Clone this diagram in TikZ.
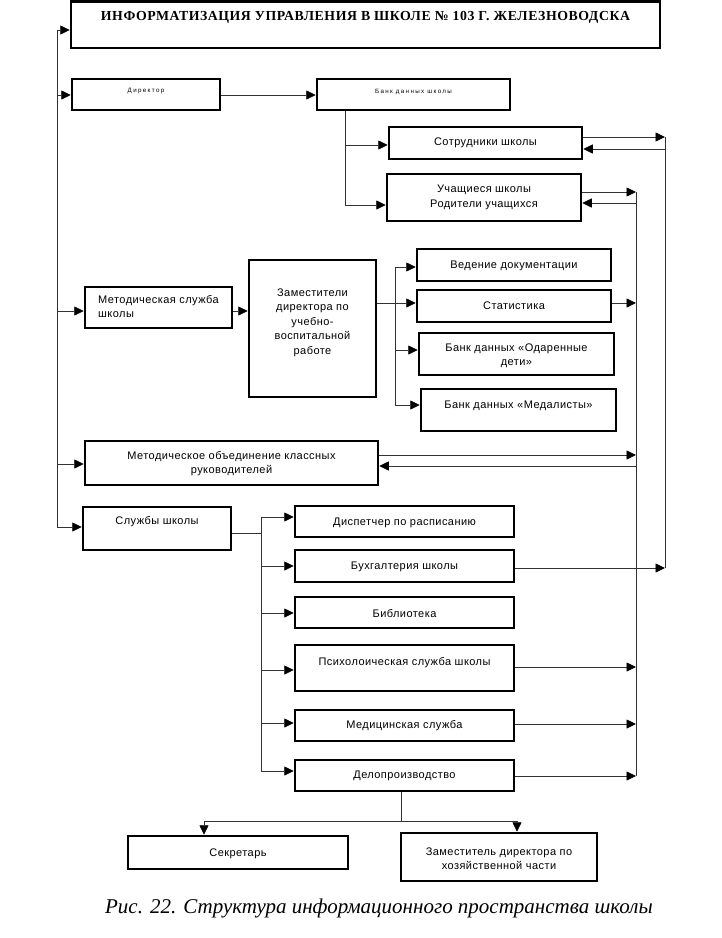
\documentclass[tikz,border=0pt]{standalone}
\usepackage{fontspec}
\setmainfont{Liberation Sans}
\newfontfamily\titlef[LetterSpace=4]{Liberation Serif}
\newfontfamily\capf{Liberation Serif}
\newfontfamily\tinyf[LetterSpace=22]{Liberation Sans}
\newfontfamily\boxf[LetterSpace=4]{Liberation Sans}
\usetikzlibrary{arrows.meta}
% #1 options for label, #2 name, #3 x1, #4 y1, #5 x2, #6 y2, #7 text y, #8 text
\newcommand{\bx}[8][]{%
  \pgfmathsetmacro\mybw{#5-#3}\pgfmathsetmacro\mybh{#6-#4}%
  \pgfmathsetmacro\mybcx{(#3+#5)/2}\pgfmathsetmacro\mybcy{(#4+#6)/2}%
  \node[box, minimum width=\mybw pt, minimum height=\mybh pt] (#2) at (\mybcx,\mybcy) {};%
  \node[lbl,#1] (#2-t) at (\mybcx,#7) {#8};%
}
\begin{document}
\begin{tikzpicture}[x=1pt,y=-1pt,
  box/.style={draw, line width=2.5pt, inner sep=0pt},
  lbl/.style={font=\boxf\fontsize{11}{14.5}\selectfont, align=center, inner sep=0pt, yshift=-1.5pt},
  tinylbl/.style={font=\tinyf\fontsize{6.2}{7}\selectfont},
  titlelbl/.style={font=\titlef\bfseries\fontsize{13.8}{15}\selectfont},
  conn/.style={line width=0.8pt, draw=black!80},
  arr/.style={conn, -{Triangle[length=9.5pt,width=9pt,color=black]}}]
\useasboundingbox (0,0) rectangle (722,938);

% boxes
\bx[titlelbl]{title}{71}{1.5}{660}{48}{15.5}{ИНФОРМАТИЗАЦИЯ УПРАВЛЕНИЯ В ШКОЛЕ № 103 Г. ЖЕЛЕЗНОВОДСКА}
\bx[tinylbl]{dir}{72}{79}{220}{110}{90}{Директор}
\bx[tinylbl]{bank}{317}{79}{510}{110}{90}{Банк данных школы}
\bx{sotr}{389}{127}{582}{159}{141}{Сотрудники школы}
\bx{uch}{387}{174}{581}{221}{196}{Учащиеся школы\\Родители учащихся}
\bx[align=left]{ms}{85}{287}{232}{328}{305}{Методическая служба\\школы}
\bx{zam}{249}{260}{376}{397}{321}{Заместители\\директора по\\учебно-\\воспитальной\\работе}
\bx{ved}{417}{249}{611}{281}{264}{Ведение документации}
\bx{stat}{417}{290}{611}{322}{304}{Статистика}
\bx{od}{419}{333}{614}{375}{354}{Банк данных «Одаренные\\дети»}
\bx{medal}{421}{389}{616}{431}{404}{Банк данных «Медалисты»}
\bx{mo}{85}{441}{378}{485}{462}{Методическое объединение классных\\руководителей}
\bx{sl}{83}{507}{231}{550}{520}{Службы школы}
\bx{disp}{295}{506}{514}{537}{521}{Диспетчер по расписанию}
\bx{bukh}{295}{550}{514}{582}{565}{Бухгалтерия школы}
\bx{bib}{295}{597}{514}{628}{612}{Библиотека}
\bx{psy}{295}{645}{514}{691}{661}{Психолоическая служба школы}
\bx{med}{295}{710}{514}{741}{724}{Медицинская служба}
\bx{delo}{295}{760}{514}{791}{774}{Делопроизводство}
\bx{sek}{128}{836}{348}{869}{852}{Секретарь}
\bx{zh}{401}{833}{597}{881}{857}{Заместитель директора по\\хозяйственной части}

\node[font=\capf\itshape\fontsize{21}{24}\selectfont, inner sep=0pt] (cap) at (379,908) {Рис. 22. Структура информационного пространства школы};

% left bus
\coordinate (L0) at (57,30);
\coordinate (L1) at (57,95);
\coordinate (L2) at (57,311);
\coordinate (L3) at (57,464);
\coordinate (L4) at (57,527);
\draw[conn] (L0) -- (L4);
\draw[arr] (L0) -- (L0 -| title.west);
\draw[arr] (L1) -- (L1 -| dir.west);
\draw[arr] (L2) -- (L2 -| ms.west);
\draw[arr] (L3) -- (L3 -| mo.west);
\draw[arr] (L4) -- (L4 -| sl.west);

% director -> bank
\coordinate (D0) at (0,95);
\draw[arr] (D0 -| dir.east) -- (D0 -| bank.west);

% bank bus
\coordinate (B1) at (345,145);
\coordinate (B2) at (345,205);
\draw[conn] (bank.south -| B1) -- (B2);
\draw[arr] (B1) -- (B1 -| sotr.west);
\draw[arr] (B2) -- (B2 -| uch.west);

% metod service -> zam
\coordinate (M0) at (0,311);
\draw[arr] (M0 -| ms.east) -- (M0 -| zam.west);

% zam bus
\coordinate (Z0) at (395,303);
\coordinate (Z1) at (395,267);
\coordinate (Z3) at (395,350);
\coordinate (Z4) at (395,405);
\draw[conn] (Z0 -| zam.east) -- (Z0);
\draw[conn] (Z1) -- (Z4);
\draw[arr] (Z1) -- (Z1 -| ved.west);
\draw[arr] (Z0) -- (Z0 -| stat.west);
\draw[arr] (Z3) -- (Z3 -| od.west);
\draw[arr] (Z4) -- (Z4 -| medal.west);

% sluzhby bus
\coordinate (S0) at (261,533);
\coordinate (S1) at (261,517);
\coordinate (S2) at (261,566);
\coordinate (S3) at (261,613);
\coordinate (S4) at (261,670);
\coordinate (S5) at (261,723);
\coordinate (S6) at (261,771);
\draw[conn] (S0 -| sl.east) -- (S0);
\draw[conn] (S1) -- (S6);
\draw[arr] (S1) -- (S1 -| disp.west);
\draw[arr] (S2) -- (S2 -| bukh.west);
\draw[arr] (S3) -- (S3 -| bib.west);
\draw[arr] (S4) -- (S4 -| psy.west);
\draw[arr] (S5) -- (S5 -| med.west);
\draw[arr] (S6) -- (S6 -| delo.west);

% outer right bus x=665
\coordinate (R1) at (665,137);
\coordinate (R1b) at (665,149);
\coordinate (R2) at (665,568);
\draw[conn] (R1) -- (R2);
\draw[arr] (R1 -| sotr.east) -- (R1);
\draw[arr] (R1b) -- (R1b -| sotr.east);
\draw[arr] (R2 -| bukh.east) -- (R2);

% inner right bus x=636
\coordinate (Q1) at (636,192);
\coordinate (Q1b) at (636,203);
\coordinate (Q2) at (636,303);
\coordinate (Q3) at (636,455);
\coordinate (Q3b) at (636,466);
\coordinate (Q4) at (636,667);
\coordinate (Q5) at (636,724);
\coordinate (Q6) at (636,776);
\draw[conn] (Q1) -- (Q6);
\draw[arr] (Q1 -| uch.east) -- (Q1);
\draw[arr] (Q1b) -- (Q1b -| uch.east);
\draw[arr] (Q2 -| stat.east) -- (Q2);
\draw[arr] (Q3 -| mo.east) -- (Q3);
\draw[arr] (Q3b) -- (Q3b -| mo.east);
\draw[arr] (Q4 -| psy.east) -- (Q4);
\draw[arr] (Q5 -| med.east) -- (Q5);
\draw[arr] (Q6 -| delo.east) -- (Q6);

% bottom split
\coordinate (T0) at (401,821);
\coordinate (T1) at (204,821);
\coordinate (T2) at (517,821);
\draw[conn] (delo.south -| T0) -- (T0);
\draw[conn] (T1) -- (T2);
\draw[arr] (T1) -- (T1 |- sek.north);
\draw[arr] (T2) -- (T2 |- zh.north);
\end{tikzpicture}
\end{document}
